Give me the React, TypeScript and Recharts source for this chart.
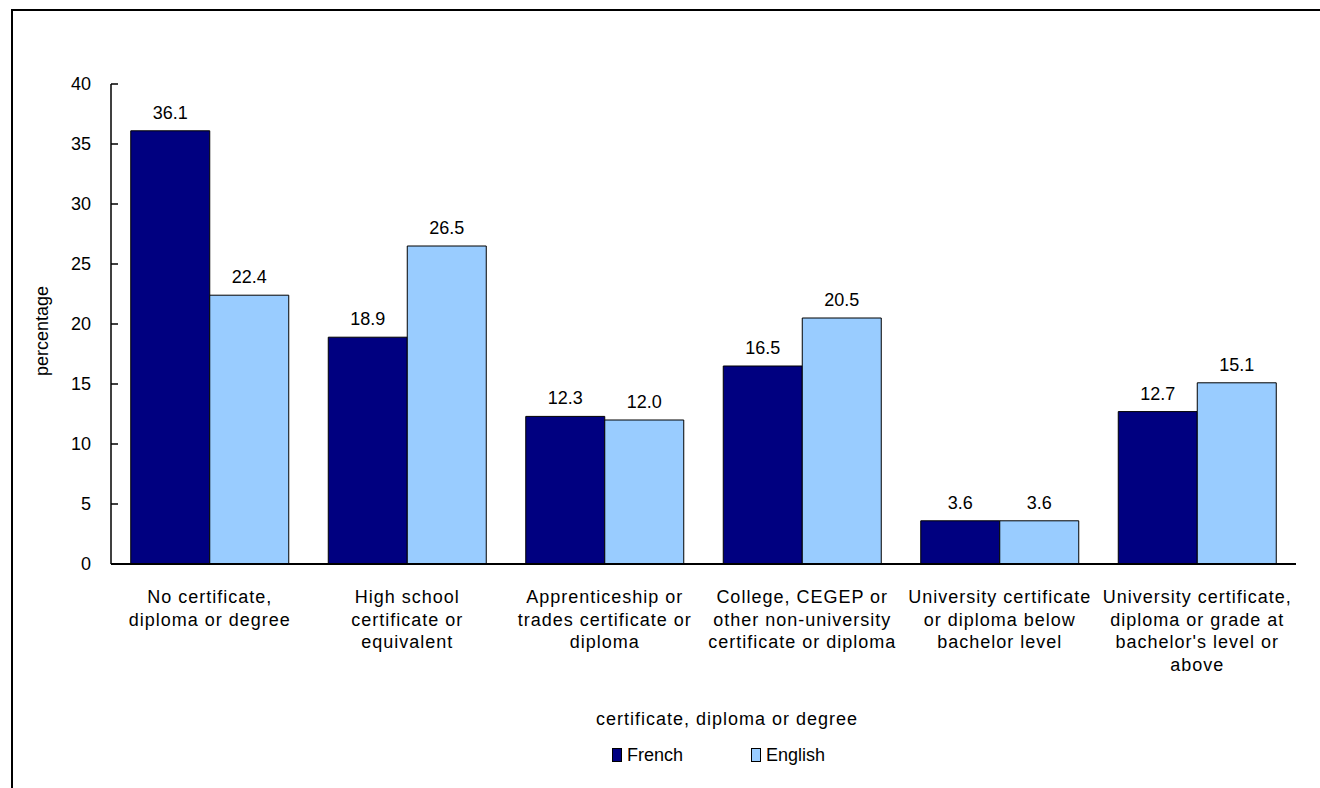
import React from 'react'
import { BarChart, Bar, XAxis, YAxis, LabelList } from 'recharts'

const categories = [
  'No certificate,\ndiploma or degree',
  'High school\ncertificate or\nequivalent',
  'Apprenticeship or\ntrades certificate or\ndiploma',
  'College, CEGEP or\nother non-university\ncertificate or diploma',
  'University certificate\nor diploma below\nbachelor level',
  "University certificate,\ndiploma or grade at\nbachelor's level or\nabove",
]
const french = [36.1, 18.9, 12.3, 16.5, 3.6, 12.7]
const english = [22.4, 26.5, 12.0, 20.5, 3.6, 15.1]
const yTicks = [0, 5, 10, 15, 20, 25, 30, 35, 40]

const FONT = "Arial, 'Liberation Sans', sans-serif"
const DARK = '#000080'
const LIGHT = '#99CCFF'

const data = categories.map((name, i) => ({ name, French: french[i], English: english[i] }))

// multi-line category labels under the x axis
const CategoryTick = ({ x, y, payload }: any) => {
  const lines = String(payload.value).split('\n')
  return (
    <text x={x} y={y} textAnchor="middle" fill="#000" fontSize={18} fontFamily={FONT} letterSpacing={1}>
      {lines.map((line, i) => (
        <tspan key={i} x={x} dy={i === 0 ? 39 : 22.5}>
          {line}
        </tspan>
      ))}
    </text>
  )
}

// y ticks point into the plot, like the original
const ValueTick = ({ x, y, payload }: any) => (
  <g>
    <line x1={x} y1={y} x2={x + 7} y2={y} stroke="#000" strokeWidth={1.5} />
    <text x={x - 20} y={y} dy={6} textAnchor="end" fill="#000" fontSize={18} fontFamily={FONT}>
      {payload.value}
    </text>
  </g>
)

const LegendItem = ({ color, label }: { color: string; label: string }) => (
  <span style={{ display: 'inline-flex', alignItems: 'center', marginRight: 68 }}>
    <span
      style={{
        display: 'inline-block',
        width: 8,
        height: 12,
        background: color,
        border: '1px solid #000',
        marginRight: 5,
      }}
    />
    <span>{label}</span>
  </span>
)

export default function App() {
  return (
    <div
      style={{
        position: 'absolute',
        left: 0,
        top: 0,
        width: 1320,
        height: 788,
        overflow: 'hidden',
        background: '#fff',
        fontFamily: FONT,
      }}
    >
      {/* outer frame: only top and left edges fall inside the picture */}
      <div
        style={{
          position: 'absolute',
          left: 11,
          top: 9,
          right: 0,
          bottom: 0,
          borderTop: '2px solid #000',
          borderLeft: '2px solid #000',
        }}
      />
      <BarChart
        width={1320}
        height={788}
        data={data}
        margin={{ top: 84, right: 24, bottom: 104, left: 0 }}
        barCategoryGap="10%"
        barGap={0}
        style={{ position: 'absolute', left: 0, top: 0 }}
      >
        <XAxis
          dataKey="name"
          interval={0}
          height={120}
          tickLine={false}
          tickSize={0}
          tickMargin={0}
          axisLine={{ stroke: '#000', strokeWidth: 2 }}
          tick={<CategoryTick />}
          label={{
            value: 'certificate, diploma or degree',
            content: () => (
              <text x={727} y={725} textAnchor="middle" fill="#000" fontSize={18} fontFamily={FONT} letterSpacing={1}>
                certificate, diploma or degree
              </text>
            ),
          }}
        />
        <YAxis
          width={111}
          domain={[0, 40]}
          ticks={yTicks}
          interval={0}
          tickLine={false}
          tickSize={0}
          tickMargin={0}
          axisLine={{ stroke: '#000', strokeWidth: 1.5 }}
          tick={<ValueTick />}
          label={{
            value: 'percentage',
            content: () => (
              <text
                x={42}
                y={331}
                transform="rotate(-90, 42, 331)"
                textAnchor="middle"
                dominantBaseline="central"
                fill="#000"
                fontSize={18}
                fontFamily={FONT}
              >
                percentage
              </text>
            ),
          }}
        />
        <Bar dataKey="French" fill={DARK} stroke="#000" strokeWidth={1} isAnimationActive={false}>
          <LabelList
            dataKey="French"
            position="top"
            offset={12}
            fill="#000"
            fontSize={18}
            fontFamily={FONT}
            formatter={(v: any) => Number(v).toFixed(1)}
          />
        </Bar>
        <Bar dataKey="English" fill={LIGHT} stroke="#000" strokeWidth={1} isAnimationActive={false}>
          <LabelList
            dataKey="English"
            position="top"
            offset={12}
            fill="#000"
            fontSize={18}
            fontFamily={FONT}
            formatter={(v: any) => Number(v).toFixed(1)}
          />
        </Bar>
      </BarChart>
      <div
        style={{
          position: 'absolute',
          left: 612,
          top: 745,
          fontSize: 18,
          lineHeight: '20px',
          color: '#000',
          whiteSpace: 'nowrap',
        }}
      >
        <LegendItem color={DARK} label="French" />
        <LegendItem color={LIGHT} label="English" />
      </div>
    </div>
  )
}
